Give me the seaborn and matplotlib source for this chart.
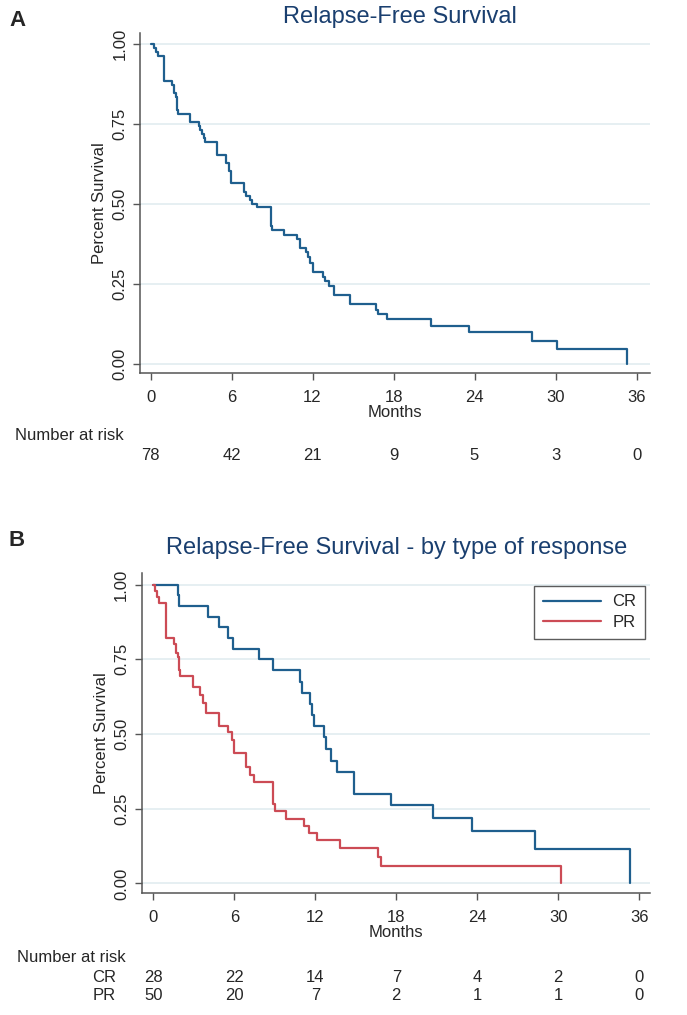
import matplotlib
matplotlib.use('Agg')
import matplotlib.pyplot as plt
import matplotlib.transforms as mtransforms
import seaborn as sns
import pandas as pd

# ---- data ----
# Panel A: all patients, step times (months) and survival after each step
months_all = [0, 0.28, 0.40, 0.55, 0.99, 1.60, 1.75, 1.85, 1.95, 2.05, 2.95, 3.57,
              3.70, 3.82, 3.95, 4.07, 4.93, 5.56, 5.85, 5.98, 6.92, 7.10, 7.35, 7.55,
              7.88, 8.90, 9.00, 9.90, 10.85, 11.07, 11.50, 11.70, 11.85, 12.06, 12.75,
              12.90, 13.20, 13.60, 14.80, 16.70, 16.84, 17.55, 20.74, 23.60, 28.25,
              30.10, 35.26]
surv_all = [1.0, 0.987, 0.974, 0.962, 0.885, 0.872, 0.846, 0.833, 0.795, 0.782, 0.756,
            0.744, 0.731, 0.718, 0.705, 0.692, 0.654, 0.628, 0.603, 0.564, 0.538, 0.526,
            0.513, 0.500, 0.490, 0.432, 0.419, 0.404, 0.390, 0.361, 0.349, 0.333, 0.316,
            0.289, 0.273, 0.260, 0.245, 0.217, 0.188, 0.169, 0.156, 0.140, 0.120, 0.099,
            0.073, 0.047, 0.0]

# Panel B: by type of response
months_cr = [0, 1.80, 1.93, 4.03, 4.90, 5.50, 5.90, 7.81, 8.85, 10.85, 11.05, 11.64,
             11.77, 11.94, 12.68, 12.81, 13.18, 13.60, 14.84, 17.58, 20.72, 23.62,
             28.27, 35.30]
surv_cr = [1.0, 0.964, 0.929, 0.893, 0.857, 0.821, 0.786, 0.750, 0.713, 0.674, 0.639,
           0.600, 0.563, 0.526, 0.489, 0.450, 0.411, 0.374, 0.300, 0.263, 0.219, 0.174,
           0.114, 0.0]
months_pr = [0, 0.10, 0.27, 0.44, 0.94, 1.53, 1.70, 1.81, 1.88, 1.98, 2.92, 3.49, 3.70,
             3.91, 4.90, 5.55, 5.84, 5.95, 6.01, 6.87, 7.17, 7.44, 8.85, 8.98, 9.84,
             11.13, 11.52, 12.14, 13.80, 16.64, 16.84, 30.17]
surv_pr = [1.0, 0.980, 0.960, 0.940, 0.820, 0.800, 0.770, 0.757, 0.714, 0.694, 0.657,
           0.631, 0.603, 0.571, 0.528, 0.506, 0.481, 0.461, 0.436, 0.389, 0.363, 0.339,
           0.267, 0.241, 0.217, 0.191, 0.170, 0.144, 0.120, 0.089, 0.059, 0.0]

# number at risk table
risk_ticks = [0, 6, 12, 18, 24, 30, 36]
risk_all = [78, 42, 21, 9, 5, 3, 0]
risk_cr = [28, 22, 14, 7, 4, 2, 0]
risk_pr = [50, 20, 7, 2, 1, 1, 0]

# ---- style ----
sns.set_style("white")
plt.rcParams['font.family'] = ['Liberation Sans', 'DejaVu Sans']

W, H = 687, 1015
BLUE = '#1f5f8e'
RED = '#cc4b55'
NAVY = '#1a3f6f'
GRID = '#e4eef1'
AXC = '#555555'
FS = 12

fig = plt.figure(figsize=(W / 100, H / 100), dpi=100)


def px_axes(left, top, right, bottom):
    return fig.add_axes([left / W, 1 - bottom / H, (right - left) / W, (bottom - top) / H])


def style_axes(ax, xlim, ylim):
    ax.set_xlim(*xlim)
    ax.set_ylim(*ylim)
    ax.set_xticks(risk_ticks)
    ax.set_yticks([0, 0.25, 0.5, 0.75, 1.0])
    ax.set_yticklabels(['0.00', '0.25', '0.50', '0.75', '1.00'], rotation=90, va='center')
    ax.grid(axis='y', color=GRID, linewidth=1.3)
    ax.grid(axis='x', visible=False)
    for s in ['top', 'right']:
        ax.spines[s].set_visible(False)
    for s in ['left', 'bottom']:
        ax.spines[s].set_color(AXC)
        ax.spines[s].set_linewidth(1.1)
    ax.tick_params(axis='both', direction='out', length=5, width=1, color=AXC,
                   labelsize=FS, pad=4, left=True, bottom=True)
    ax.tick_params(axis='x', pad=7)
    ax.set_xlabel('Months', fontsize=FS, labelpad=0)
    ax.set_ylabel('Percent Survival', fontsize=FS, labelpad=4)


# ---- Panel A ----
ax1 = px_axes(140, 33, 650, 373)
df_all = pd.DataFrame({'months': months_all, 'surv': surv_all})
sns.lineplot(data=df_all, x='months', y='surv', color=BLUE, linewidth=1.6,
             drawstyle='steps-post', estimator=None, sort=False, ax=ax1)
style_axes(ax1, (-0.78, 37.0), (-0.028, 1.034))
fig.text(400 / W, 1 - 17 / H, 'Relapse-Free Survival', ha='center', va='center',
         fontsize=17, color=NAVY)
fig.text(9 / W, 1 - 20 / H, 'A', ha='left', va='center', fontsize=16, fontweight='bold')

tr1 = mtransforms.blended_transform_factory(ax1.transData, fig.transFigure)
fig.text(15 / W, 1 - 436 / H, 'Number at risk', ha='left', va='center', fontsize=FS)
for t, n in zip(risk_ticks, risk_all):
    ax1.text(t, 1 - 455 / H, str(n), transform=tr1, ha='center', va='center', fontsize=FS)

# ---- Panel B ----
ax2 = px_axes(141.7, 573, 650, 893)
df_grp = pd.concat([
    pd.DataFrame({'months': months_cr, 'surv': surv_cr, 'group': 'CR'}),
    pd.DataFrame({'months': months_pr, 'surv': surv_pr, 'group': 'PR'}),
], ignore_index=True)
sns.lineplot(data=df_grp, x='months', y='surv', hue='group',
             palette={'CR': BLUE, 'PR': RED}, linewidth=1.6,
             drawstyle='steps-post', estimator=None, sort=False, ax=ax2)
style_axes(ax2, (-0.86, 36.8), (-0.032, 1.039))
leg = ax2.legend(loc='upper right', bbox_to_anchor=(0.990, 0.959), borderaxespad=0,
                 frameon=True, fancybox=False, fontsize=FS, handlelength=3.5,
                 handletextpad=0.7, borderpad=0.5, labelspacing=0.35)
leg.get_frame().set_edgecolor('#333333')
leg.get_frame().set_linewidth(1.0)
fig.text(397 / W, 1 - 548 / H, 'Relapse-Free Survival - by type of response',
         ha='center', va='center', fontsize=17, color=NAVY)
fig.text(9 / W, 1 - 540 / H, 'B', ha='left', va='center', fontsize=16, fontweight='bold')

tr2 = mtransforms.blended_transform_factory(ax2.transData, fig.transFigure)
fig.text(17 / W, 1 - 957 / H, 'Number at risk', ha='left', va='center', fontsize=FS)
for label, row, ypx in [('CR', risk_cr, 977), ('PR', risk_pr, 996)]:
    fig.text(116 / W, 1 - ypx / H, label, ha='right', va='center', fontsize=FS)
    for t, n in zip(risk_ticks, row):
        ax2.text(t, 1 - ypx / H, str(n), transform=tr2, ha='center', va='center', fontsize=FS)

fig.savefig('out.png', dpi=100)
